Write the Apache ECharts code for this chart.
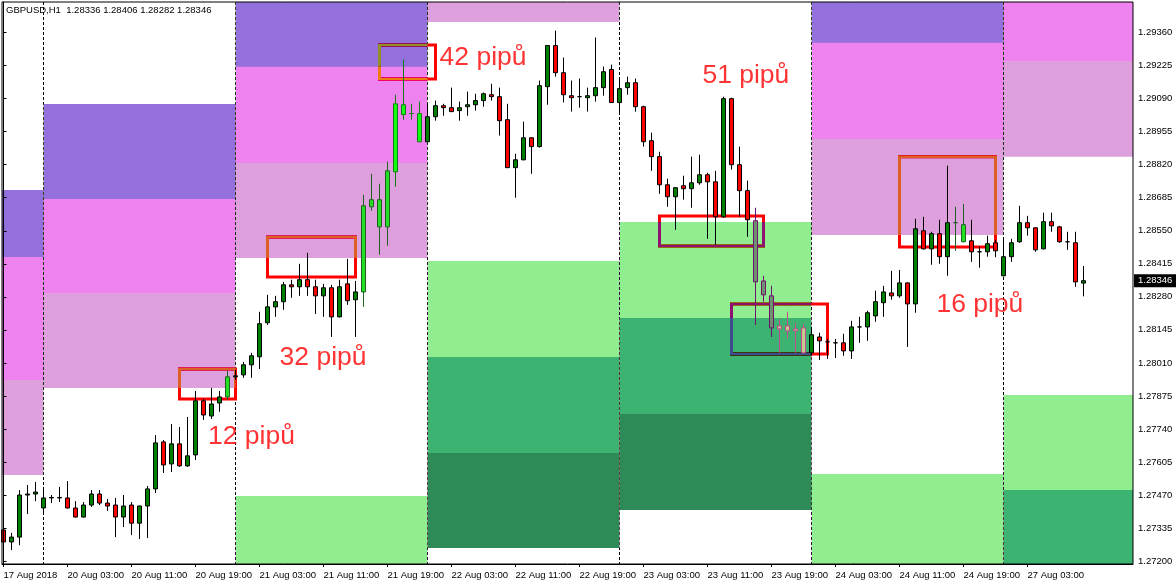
<!DOCTYPE html>
<html><head><meta charset="utf-8">
<script src="https://cdn.jsdelivr.net/npm/echarts@6/dist/echarts.min.js"></script>
<style>html,body{margin:0;padding:0;background:#fff}#c{width:1176px;height:585px}</style>
</head><body><div id="c"></div>
<script>
// ---- data (GBPUSD H1, bar index 0 = 17 Aug 19:00) ----
const opens = [1.27327,1.27278,1.27298,1.27470,1.27474,1.27417,1.27458,1.27458,1.27458,1.27417,
1.27380,1.27429,1.27474,1.27437,1.27429,1.27380,1.27429,1.27355,1.27425,1.27495,
1.27687,1.27597,1.27679,1.27589,1.27634,1.27855,1.27793,1.27846,1.27871,1.27953,
1.27961,1.28002,1.28035,1.28174,1.28239,1.28260,1.28329,1.28321,1.28350,1.28321,
1.28284,1.28317,1.28198,1.28333,1.28268,1.28300,1.28648,1.28677,1.28566,1.28791,
1.29065,1.29029,1.29029,1.28914,1.29016,1.29061,1.29053,1.29041,1.29057,1.29065,
1.29082,1.29106,1.29098,1.29004,1.28808,1.28840,1.28930,1.28894,1.29139,1.29307,
1.29196,1.29102,1.29098,1.29094,1.29102,1.29135,1.29209,1.29074,1.29135,1.29155,
1.29057,1.28918,1.28853,1.28738,1.28689,1.28734,1.28722,1.28746,1.28779,1.28750,
1.28607,1.29090,1.28820,1.28714,1.28591,1.28345,1.28284,1.28149,1.28161,1.28141,
1.28153,1.28051,1.28116,1.28096,1.28092,1.28092,1.28059,1.28157,1.28157,1.28202,
1.28256,1.28296,1.28284,1.28337,1.28251,1.28550,1.28476,1.28538,1.28444,1.28583,
1.28575,1.28509,1.28464,1.28464,1.28501,1.28366,1.28444,1.28505,1.28583,1.28562,
1.28476,1.28587,1.28566,1.28505,1.28501,1.28336];
const highs = [1.27417,1.27315,1.27490,1.27511,1.27523,1.27499,1.27470,1.27503,1.27527,1.27445,
1.27441,1.27490,1.27490,1.27454,1.27458,1.27470,1.27441,1.27427,1.27507,1.27715,
1.27695,1.27760,1.27748,1.27789,1.27895,1.27863,1.27908,1.27895,1.27977,1.27981,
1.28014,1.28051,1.28219,1.28288,1.28284,1.28341,1.28350,1.28415,1.28460,1.28350,
1.28333,1.28329,1.28350,1.28435,1.28345,1.28697,1.28783,1.28742,1.28832,1.29106,
1.29250,1.29069,1.29078,1.29069,1.29082,1.29069,1.29135,1.29078,1.29119,1.29110,
1.29115,1.29151,1.29135,1.29069,1.28865,1.28996,1.28932,1.29164,1.29309,1.29368,
1.29258,1.29164,1.29172,1.29135,1.29340,1.29221,1.29229,1.29176,1.29180,1.29172,
1.29061,1.28951,1.28873,1.28763,1.28728,1.28775,1.28853,1.28861,1.28787,1.28795,
1.29098,1.29094,1.28894,1.28755,1.28644,1.28366,1.28325,1.28190,1.28219,1.28174,
1.28170,1.28157,1.28133,1.28108,1.28108,1.28129,1.28182,1.28198,1.28223,1.28305,
1.28325,1.28386,1.28390,1.28339,1.28599,1.28607,1.28546,1.28595,1.28816,1.28648,
1.28660,1.28595,1.28485,1.28530,1.28513,1.28513,1.28517,1.28652,1.28611,1.28564,
1.28624,1.28624,1.28570,1.28546,1.28546,1.28406];
const lows = [1.27245,1.27245,1.27265,1.27392,1.27445,1.27396,1.27437,1.27441,1.27415,1.27378,
1.27378,1.27421,1.27429,1.27405,1.27298,1.27339,1.27306,1.27290,1.27294,1.27478,
1.27560,1.27564,1.27585,1.27585,1.27613,1.27777,1.27781,1.27810,1.27859,1.27940,
1.27949,1.27949,1.27985,1.28165,1.28198,1.28227,1.28276,1.28284,1.28284,1.28210,
1.28198,1.28116,1.28196,1.28247,1.28116,1.28239,1.28632,1.28452,1.28489,1.28730,
1.29004,1.29004,1.28912,1.28912,1.29000,1.29020,1.29035,1.29000,1.29020,1.29041,
1.29057,1.29082,1.28939,1.28806,1.28685,1.28838,1.28783,1.28890,1.29065,1.29180,
1.29074,1.29037,1.29053,1.29037,1.29078,1.29102,1.29072,1.29033,1.29106,1.29037,
1.28894,1.28795,1.28701,1.28648,1.28554,1.28677,1.28644,1.28738,1.28517,1.28493,
1.28603,1.28800,1.28607,1.28525,1.28165,1.28260,1.28116,1.28051,1.28108,1.28051,
1.28049,1.28039,1.28022,1.28026,1.28030,1.28039,1.28026,1.28092,1.28100,1.28178,
1.28198,1.28268,1.28276,1.28075,1.28215,1.28474,1.28411,1.28415,1.28366,1.28468,
1.28503,1.28423,1.28399,1.28444,1.28442,1.28364,1.28423,1.28501,1.28530,1.28464,
1.28474,1.28546,1.28501,1.28472,1.28321,1.28282];
const closes = [1.27278,1.27298,1.27470,1.27474,1.27482,1.27458,1.27460,1.27460,1.27417,1.27380,
1.27429,1.27474,1.27437,1.27425,1.27380,1.27425,1.27355,1.27425,1.27495,1.27683,
1.27593,1.27679,1.27589,1.27630,1.27855,1.27797,1.27842,1.27871,1.27953,1.27957,
1.28002,1.28039,1.28170,1.28239,1.28260,1.28329,1.28321,1.28350,1.28321,1.28284,
1.28317,1.28198,1.28321,1.28264,1.28300,1.28652,1.28677,1.28566,1.28795,1.29069,
1.29025,1.29029,1.28914,1.29016,1.29061,1.29053,1.29037,1.29053,1.29065,1.29082,
1.29110,1.29098,1.29000,1.28808,1.28840,1.28930,1.28894,1.29143,1.29307,1.29196,
1.29106,1.29094,1.29098,1.29102,1.29135,1.29200,1.29074,1.29131,1.29155,1.29057,
1.28914,1.28853,1.28738,1.28689,1.28726,1.28722,1.28746,1.28779,1.28750,1.28607,
1.29090,1.28820,1.28714,1.28595,1.28341,1.28288,1.28153,1.28161,1.28141,1.28149,
1.28051,1.28125,1.28100,1.28096,1.28092,1.28059,1.28157,1.28157,1.28215,1.28260,
1.28300,1.28284,1.28337,1.28251,1.28558,1.28476,1.28538,1.28444,1.28583,1.28583,
1.28505,1.28464,1.28464,1.28497,1.28468,1.28444,1.28501,1.28583,1.28562,1.28472,
1.28587,1.28570,1.28505,1.28505,1.28341,1.28346];

const xTickIndex = [0,8,16,24,32,40,48,56,64,72,80,88,96,104,112,120,128];
const xTickLabels = ['17 Aug 2018','20 Aug 03:00','20 Aug 11:00','20 Aug 19:00','21 Aug 03:00',
'21 Aug 11:00','21 Aug 19:00','22 Aug 03:00','22 Aug 11:00','22 Aug 19:00','23 Aug 03:00',
'23 Aug 11:00','23 Aug 19:00','24 Aug 03:00','24 Aug 11:00','24 Aug 19:00','27 Aug 03:00'];
const yTickValues = [1.27200,1.27335,1.27470,1.27605,1.27740,1.27875,1.28010,1.28145,1.28280,
1.28415,1.28550,1.28685,1.28820,1.28955,1.29090,1.29225,1.29360];
const daySeparators = [5,29,53,77,101,125];

// zones: [fromBar, toBar, lowPrice, highPrice, kind]
const zones = [
 [-2,5,1.28443,1.28717,'mediumpurple'],[-2,5,1.27940,1.28443,'violet'],[-2,5,1.27552,1.27940,'plum'],
 [5,29,1.28680,1.29068,'mediumpurple'],[5,29,1.28296,1.28680,'violet'],[5,29,1.27907,1.28296,'plum'],
 [29,53,1.29220,1.29600,'mediumpurple'],[29,53,1.28827,1.29220,'violet'],[29,53,1.28439,1.28827,'plum'],[29,53,1.27000,1.27466,'lightgreen'],
 [53,77,1.29403,1.29600,'plum'],[53,77,1.28034,1.28426,'lightgreen'],[53,77,1.27642,1.28034,'mediumseagreen'],[53,77,1.27253,1.27642,'seagreen'],
 [77,101,1.28193,1.28586,'lightgreen'],[77,101,1.27801,1.28193,'mediumseagreen'],[77,101,1.27409,1.27801,'seagreen'],
 [101,125,1.29318,1.29600,'mediumpurple'],[101,125,1.28925,1.29318,'violet'],[101,125,1.28533,1.28925,'plum'],[101,125,1.27000,1.27556,'lightgreen'],
 [125,145,1.29244,1.29600,'violet'],[125,145,1.28852,1.29244,'plum'],[125,145,1.27490,1.27879,'lightgreen'],[125,145,1.27000,1.27490,'mediumseagreen']
];
// boxes: [fromBar, toBar, lowPrice, highPrice]
const boxes = [[22,29,1.27862,1.27985],[33,44,1.28361,1.28525],[47,54,1.29170,1.29309],
 [82,95,1.28488,1.28610],[91,103,1.28046,1.28251],[112,124,1.28484,1.28852]];
const pipLabels = ['12 pipů','32 pipů','42 pipů','51 pipů','16 pipů'];
const pipX = [25.5,34.45,54.45,87.3,116.55];
const pipY = [1.27709,1.28030,1.29258,1.29183,1.28247];

// ---- rendering ----
const KIND = {mediumpurple:'#9370DB',violet:'#EE82EE',plum:'#DDA0DD',lightgreen:'#90EE90',mediumseagreen:'#3CB371',seagreen:'#2E8B57'};
const BULL='#008000', BEAR='#FF0000';
const hx = h=>parseInt(h.slice(1),16);
const toHex = n=>'#'+n.toString(16).padStart(6,'0');
const inv = h=>toHex(hx(h)^0xFFFFFF);
const xorOver = (base,z)=>toHex(hx(base)^(hx(z)^0xFFFFFF));
const X_MIN=-0.1875, X_MAX=141.1875, Y_MIN=1.27188, Y_MAX=1.29485;
const FONT='Liberation Sans';

function findZone(i, price){
  for(const z of zones){ if(i>=z[0] && i<z[1] && price>=z[2] && price<z[3]) return z; }
  return null;
}
const candleItems = opens.map((o,i)=>{
  const value=[i,o,closes[i],lows[i],highs[i]];
  const z=findZone(i,(o+closes[i])/2);
  if(!z) return value;
  const k=KIND[z[4]];
  return {value, itemStyle:{color:xorOver(BULL,k),color0:xorOver(BEAR,k),borderColor:inv(k),borderColor0:inv(k)}};
});
const last=opens.length-1;
const header='GBPUSD,H1  '+[opens[last],highs[last],lows[last],closes[last]].map(v=>v.toFixed(5)).join(' ');

const chart=echarts.init(document.getElementById('c'),null,{renderer:'canvas'});
chart.setOption({
  backgroundColor:'#ffffff',
  animation:false,
  title:{text:header,left:6,top:5,padding:0,textStyle:{fontSize:9.5,fontWeight:'normal',color:'#000',fontFamily:FONT}},
  grid:{left:2,right:43,top:2,bottom:21,show:true,borderColor:'#000',borderWidth:1,backgroundColor:'transparent',z:10},
  xAxis:{type:'value',min:X_MIN,max:X_MAX,z:10,splitLine:{show:false},
    axisLine:{onZero:false,lineStyle:{color:'#000',width:1}},
    axisTick:{show:true,customValues:xTickIndex,length:3,lineStyle:{color:'#000'}},
    axisLabel:{customValues:xTickIndex,formatter:v=>xTickLabels[xTickIndex.indexOf(Math.round(v))],align:'left',margin:6,color:'#000',fontSize:9.5,fontFamily:FONT}},
  yAxis:{type:'value',position:'right',min:Y_MIN,max:Y_MAX,scale:true,z:10,splitLine:{show:false},
    axisLine:{show:true,lineStyle:{color:'#000',width:1}},
    axisTick:{show:true,customValues:yTickValues,length:3,lineStyle:{color:'#000'}},
    axisLabel:{customValues:yTickValues,formatter:v=>v.toFixed(5),margin:5,color:'#000',fontSize:9.5,fontFamily:FONT}},
  series:[
    {type:'custom',name:'separators',z:1,silent:true,clip:true,
      data:daySeparators.map(d=>[d,Y_MIN]),encode:{x:0,y:1},
      renderItem:(params,api)=>{const cs=params.coordSys;const x=api.coord([api.value(0),Y_MIN])[0];
        return {type:'line',shape:{x1:x,y1:cs.y,x2:x,y2:cs.y+cs.height},style:{stroke:'#000',lineWidth:1,lineDash:[3,2]}};}},
    {type:'custom',name:'boxes',z:1,silent:true,clip:true,
      data:boxes,encode:{x:[0,1],y:[2,3]},
      renderItem:(params,api)=>{const p0=api.coord([api.value(0),api.value(3)]);const p1=api.coord([api.value(1),api.value(2)]);
        return {type:'rect',shape:{x:p0[0],y:p0[1],width:p1[0]-p0[0],height:p1[1]-p0[1]},style:{fill:null,stroke:'#FF0000',lineWidth:3}};}},
    {type:'custom',name:'zones',z:3,silent:true,clip:true,blendMode:'difference',
      data:zones.map(z=>[z[0],z[1],z[2],z[3]]),encode:{x:[0,1],y:[2,3]},
      renderItem:(params,api)=>{const cs=params.coordSys;const z=zones[params.dataIndex];
        const p0=api.coord([api.value(0),api.value(3)]);const p1=api.coord([api.value(1),api.value(2)]);
        const r=echarts.graphic.clipRectByRect({x:p0[0],y:p0[1],width:p1[0]-p0[0],height:p1[1]-p0[1]},{x:cs.x,y:cs.y,width:cs.width,height:cs.height});
        if(!r) return null;
        return {type:'rect',shape:r,style:{fill:inv(KIND[z[4]]),blend:'difference'}};}},
    {type:'candlestick',name:'GBPUSD',z:5,barWidth:5,data:candleItems,silent:true,
      itemStyle:{color:BULL,color0:BEAR,borderColor:'#000',borderColor0:'#000',borderWidth:1},
      markLine:{silent:true,symbol:'none',animation:false,precision:5,
        data:[[{coord:[X_MIN,closes[last]]},{coord:[X_MAX,closes[last]]}]],
        lineStyle:{width:1,color:'rgba(0,0,0,0)',type:'solid'},
        label:{show:true,position:'end',distance:1,formatter:closes[last].toFixed(5),backgroundColor:'#000',color:'#fff',
          padding:[2,7,1,4],fontSize:9.5,fontFamily:FONT}}},
    {type:'scatter',name:'notes',z:8,silent:true,symbolSize:1,itemStyle:{color:'rgba(0,0,0,0)'},
      data:pipX.map((x,i)=>[x,pipY[i],pipLabels[i]]),
      label:{show:true,position:'right',distance:0,formatter:p=>p.value[2],color:'#FF0000',fontSize:26.5,fontFamily:FONT}}
  ]
});
</script></body></html>
